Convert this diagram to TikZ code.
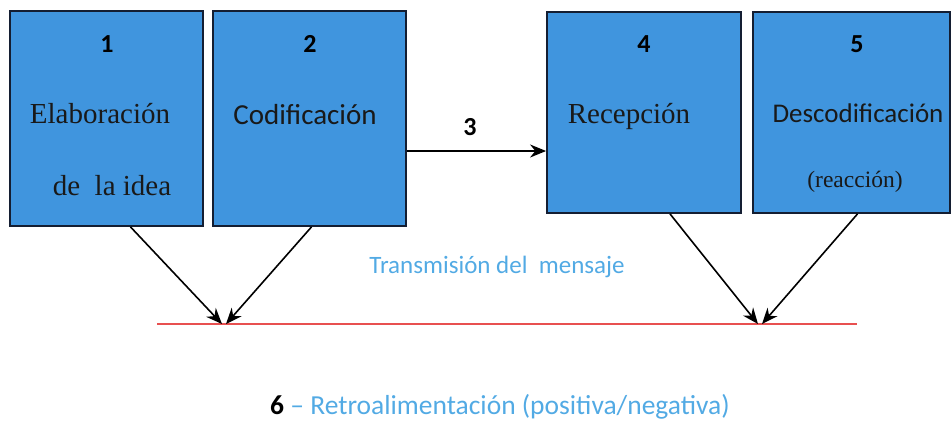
\documentclass[tikz,border=0pt]{standalone}
\usepackage{fontspec}
\setmainfont{Liberation Serif}
\newfontfamily\carlitofont{Carlito}
\usetikzlibrary{arrows.meta}
\definecolor{boxblue}{RGB}{64,149,222}
\definecolor{boxline}{RGB}{20,30,50}
\definecolor{lblue}{RGB}{82,170,228}
\definecolor{redline}{RGB}{232,80,80}
\tikzset{
  stagebox/.style={draw=boxline, line width=1.8pt, fill=boxblue, inner sep=0pt},
  num/.style={font=\carlitofont\bfseries\fontsize{26}{26}\selectfont, text=black, inner sep=0pt, anchor=base},
  serif/.style={font=\fontsize{29}{29}\selectfont, text=black!90, inner sep=0pt, anchor=base},
  sans/.style={font=\carlitofont\fontsize{29}{29}\selectfont, text=black!90, inner sep=0pt, anchor=base},
  arr/.style={line width=1.6pt, -{Stealth[length=16pt,width=13pt]}},
}
\begin{document}
\begin{tikzpicture}[x=1pt,y=-1pt]
\useasboundingbox (0,0) rectangle (952,421);
% boxes
\node[stagebox, minimum width=193pt, minimum height=215pt] (b1) at (106.5,118.5) {};
\node[stagebox, minimum width=193pt, minimum height=215pt] (b2) at (309.5,118.5) {};
\node[stagebox, minimum width=194pt, minimum height=201pt] (b4) at (644,112.5) {};
\node[stagebox, minimum width=197pt, minimum height=201pt] (b5) at (851.5,112.5) {};
% numbers
\node[num] (n1) at (107,52) {1};
\node[num] (n2) at (310,52) {2};
\node[num] (n4) at (644,52) {4};
\node[num] (n5) at (857,52) {5};
% texts
\node[serif] (t1a) at (100,123) {Elaboración};
\node[serif] (t1b) at (112,195) {de\ \ la idea};
\node[sans] (t2) at (305,124) {Codificación};
\node[serif] (t4) at (629,123) {Recepción};
\node[sans, font=\carlitofont\fontsize{27}{27}\selectfont] (t5a) at (858,122) {Descodificación};
\node[serif, font=\fontsize{23.5}{23.5}\selectfont] (t5b) at (855,187) {(reacción)};
% arrow 3
\coordinate (y3) at (0,151);
\draw[arr] (b2.east |- y3) -- (b4.west |- y3);
\node[num] (n3) at (470,135) {3};
% red line
\coordinate (rl) at (157,324);
\coordinate (rr) at (857,324);
\draw[redline, line width=2pt] (rl) -- (rr);
% converging arrows
\coordinate (p1) at (222,324);
\coordinate (p2) at (226,324);
\coordinate (p4) at (758,324);
\coordinate (p5) at (762,324);
\draw[arr] ([xshift=24pt]b1.south) -- (p1);
\draw[arr] ([xshift=2pt]b2.south) -- (p2);
\draw[arr] ([xshift=26pt]b4.south) -- (p4);
\draw[arr] ([xshift=6pt]b5.south) -- (p5);
% labels
\node[font=\carlitofont\fontsize{25}{25}\selectfont, text=lblue, inner sep=0pt, anchor=base] (trans) at (497,273) {Transmisión del\ \ mensaje};
\node[font=\carlitofont\fontsize{27.5}{27.5}\selectfont, inner sep=0pt, anchor=base] (retro) at (500,414) {\textbf{6} \textcolor{lblue}{– Retroalimentación (positiva/negativa)}};
\end{tikzpicture}
\end{document}
